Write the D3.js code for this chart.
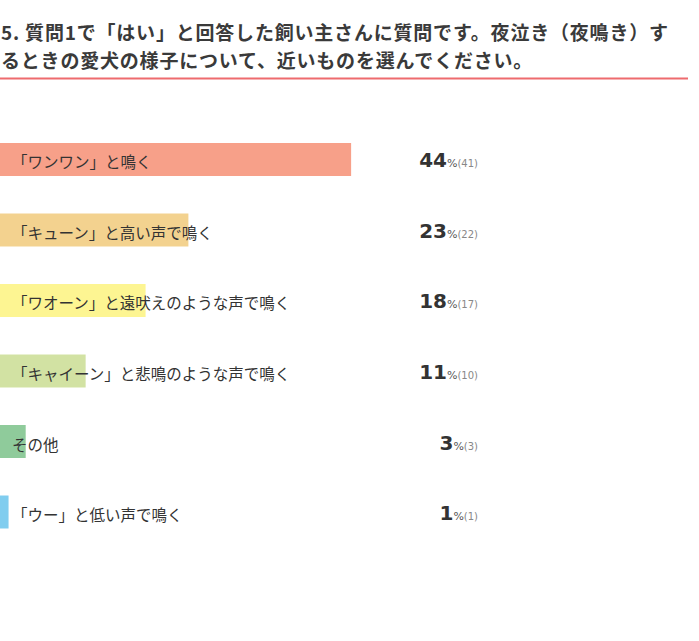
<!DOCTYPE html>
<html><head><meta charset="utf-8">
<script src="https://cdn.jsdelivr.net/npm/d3@7"></script>
<style>
html,body{margin:0;padding:0;background:#fff;}
svg{display:block;}
</style></head>
<body>
<svg id="chart" width="699" height="641"></svg>
<script>
const titleLines = ["5. 質問1で「はい」と回答した飼い主さんに質問です。夜泣き（夜鳴き）す",
                    "るときの愛犬の様子について、近いものを選んでください。"];
const categories = ["「ワンワン」と鳴く","「キューン」と高い声で鳴く","「ワオーン」と遠吠えのような声で鳴く",
                    "「キャイーン」と悲鳴のような声で鳴く","その他","「ウー」と低い声で鳴く"];
const counts = [41,22,17,10,3,1];
const percentLabels = [44,23,18,11,3,1];
const colors = ["#f7a089","#f3d28f","#fdf592","#d2e2a3","#8fcb9b","#80cdef"];

const total = d3.sum(counts);
const svg = d3.select("#chart");

// title
const t = svg.append("g");
t.selectAll("text").data(titleLines).join("text")
  .attr("x",1).attr("y",(d,i)=>39.5+i*28)
  .attr("font-family","'Noto Sans CJK JP', sans-serif")
  .attr("font-weight","bold").attr("font-size","19px")
  .attr("letter-spacing","0.8px")
  .attr("fill","#3a3a3a").text(d=>d);
svg.append("line").attr("x1",0).attr("x2",688).attr("y1",78.5).attr("y2",78.5)
  .attr("stroke","#ee6b6e").attr("stroke-width",2);

const x = d3.scaleLinear().domain([0,100]).range([0,805]);
const y = d3.scaleBand().domain(categories).range([143,528.5]).paddingInner(0.532).paddingOuter(0);

const rows = svg.selectAll("g.row").data(categories.map((c,i)=>({c,i}))).join("g").attr("class","row");
rows.append("rect")
  .attr("x",x(0)).attr("y",d=>y(d.c))
  .attr("width",d=>x(counts[d.i]/total*100)-x(0))
  .attr("height",y.bandwidth())
  .attr("fill",d=>colors[d.i]);
rows.append("text")
  .attr("x",12).attr("y",d=>y(d.c)+y.bandwidth()/2+9)
  .attr("font-family","'Noto Sans CJK JP', sans-serif")
  .attr("font-size","15.5px").attr("fill","#333")
  .text(d=>d.c);
const vt = rows.append("text")
  .attr("x",478).attr("y",d=>y(d.c)+y.bandwidth()/2+8)
  .attr("text-anchor","end")
  .attr("font-family","'DejaVu Sans', Verdana, sans-serif");
vt.append("tspan").attr("font-size","20px").attr("font-weight","bold").attr("fill","#333")
  .text(d=>percentLabels[d.i]);
vt.append("tspan").attr("font-size","11px").attr("fill","#555").text("%");
vt.append("tspan").attr("font-size","10px").attr("fill","#888").text(d=>"("+counts[d.i]+")");
</script>
</body></html>
